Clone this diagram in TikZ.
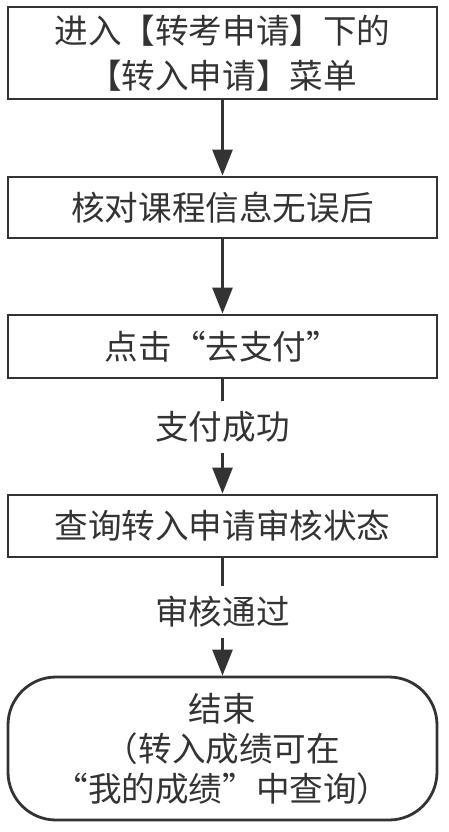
\documentclass[tikz,border=0pt]{standalone}
\usepackage{fontspec}
\setmainfont{Noto Sans CJK SC}
\usetikzlibrary{arrows.meta,shapes.misc}
\definecolor{inkgray}{HTML}{333333}
\tikzset{
  stepbox/.style={draw=inkgray, line width=1.4pt, text=inkgray, align=center,
    minimum width=214.5pt, inner sep=0pt,
    font=\fontsize{16.8pt}{22.5pt}\selectfont},
  endbox/.style={stepbox, rounded corners=24pt,
    font=\fontsize{16.8pt}{20pt}\selectfont},
  flowlabel/.style={text=inkgray, inner sep=5pt, font=\fontsize{16.8pt}{20pt}\selectfont},
  flow/.style={draw=inkgray, line width=1.4pt, -{Triangle[width=10pt,length=13pt]}},
}
\begin{document}
\begin{tikzpicture}[x=0.5pt, y=-0.5pt]

    % page frame
    \useasboundingbox (0,0) rectangle (449,832);

    % boxes of the flow
    \node[stepbox, minimum height=46pt] (enter) at (222.5,53) {进入【转考申请】下的\\【转入申请】菜单};
    \node[stepbox, minimum height=30.5pt] (check) at (222.5,207.5) {核对课程信息无误后};
    \node[stepbox, minimum height=31.5pt] (pay) at (222.5,346.5) {点击“去支付”};
    \node[stepbox, minimum height=31pt] (query) at (222.5,526) {查询转入申请审核状态};
    \node[endbox, minimum height=71.5pt] (finish) at (222.5,748.5) {结束\\（转入成绩可在\\“我的成绩”中查询）};

    % labels on the connectors
    \node[flowlabel] (paid) at (222.5,427) {支付成功};
    \node[flowlabel] (passed) at (222.5,612) {审核通过};

    % arrows
    \draw[flow] (enter) -- (check);
    \draw[flow] (check) -- (pay);
    \draw[draw=inkgray, line width=1.4pt] (pay) -- (paid);
    \draw[flow] (paid) -- (query);
    \draw[draw=inkgray, line width=1.4pt] (query) -- (passed);
    \draw[flow] (passed) -- (finish);

\end{tikzpicture}
\end{document}
